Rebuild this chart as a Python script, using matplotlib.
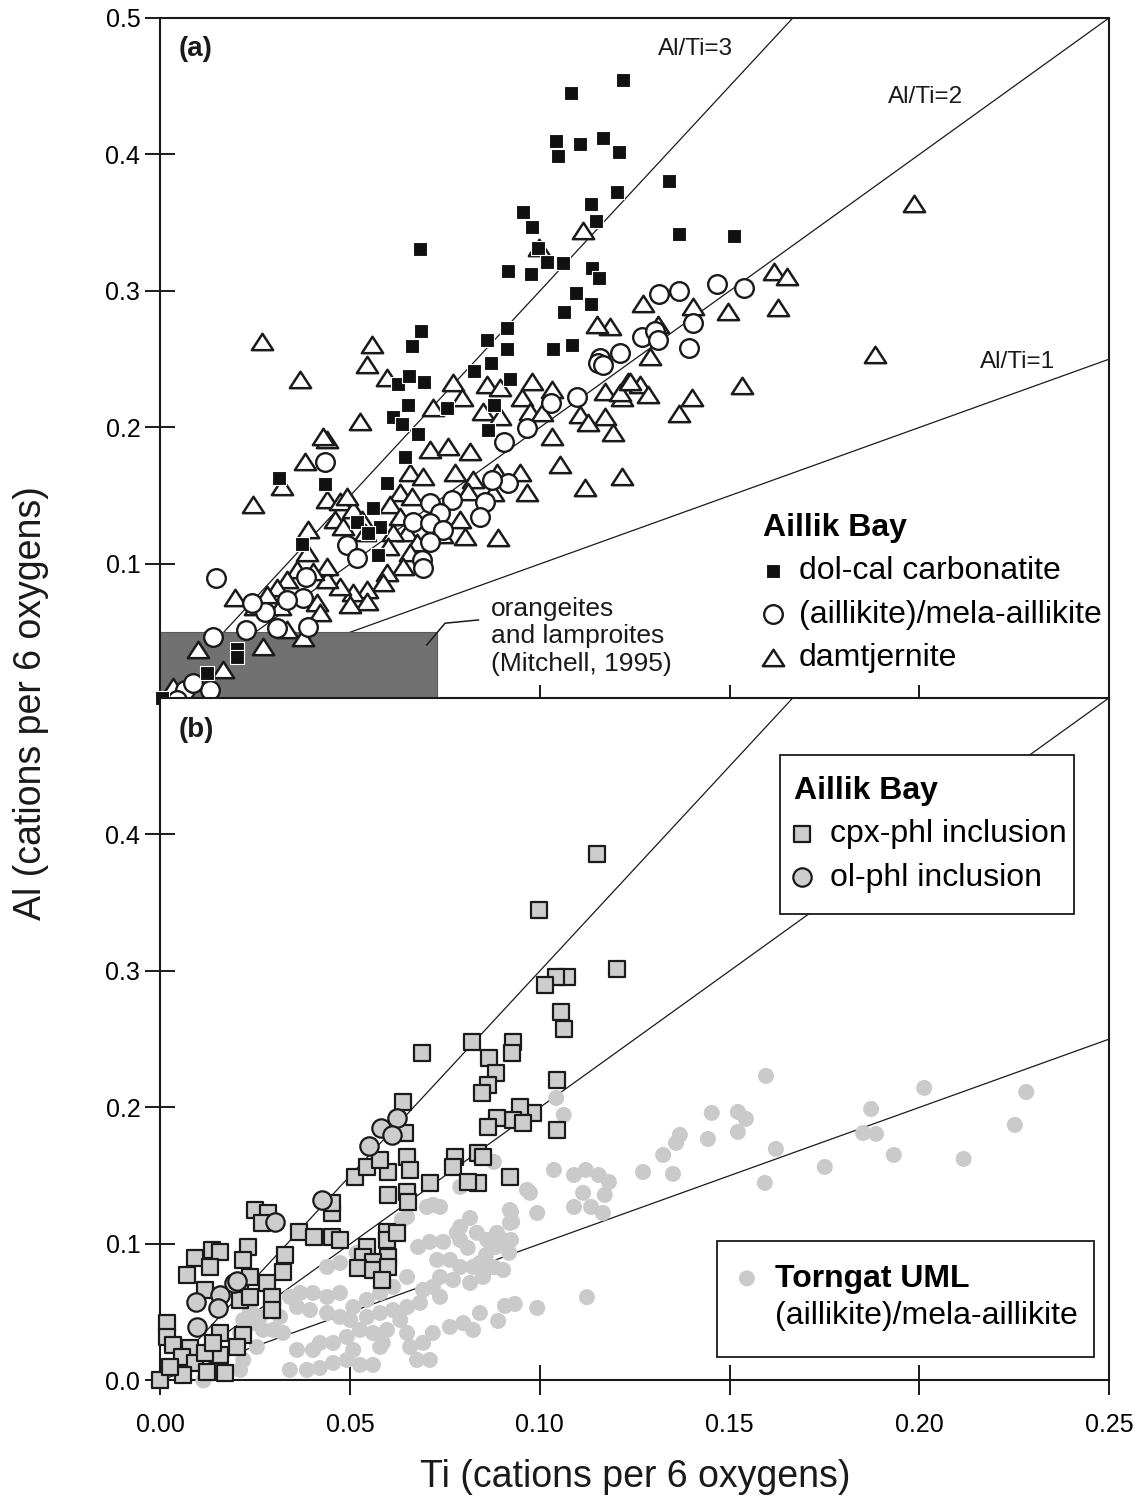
import matplotlib
matplotlib.use("Agg")
import matplotlib.pyplot as plt
from matplotlib.path import Path
from matplotlib.patches import Rectangle
from matplotlib.lines import Line2D

plt.rcParams['font.family'] = ['Liberation Sans', 'DejaVu Sans']

# ---------------- (a) Aillik Bay groundmass micas ----------------
carb_ti = [0.1219, 0.1082, 0.1042, 0.1048, 0.1106, 0.1166, 0.1209, 0.1204, 0.1135, 0.1148,
           0.0956, 0.0979, 0.0995, 0.1019, 0.1061, 0.0916, 0.0976, 0.1137, 0.1156, 0.1095,
           0.1135, 0.1064, 0.0684, 0.0686, 0.0663, 0.0913, 0.0913, 0.1034, 0.1084, 0.0860,
           0.1340, 0.1367, 0.1512, 0.0826, 0.0871, 0.0921, 0.0626, 0.0655, 0.0694, 0.0652,
           0.0613, 0.0636, 0.0678, 0.0755, 0.0863, 0.0880, 0.0644, 0.0312, 0.0434, 0.0597,
           0.0560, 0.0518, 0.0579, 0.0547, 0.0373, 0.0573, 0.0201, 0.0201, 0.0122, 0.0004]
carb_al = [0.4546, 0.4450, 0.4100, 0.3990, 0.4080, 0.4120, 0.4020, 0.3725, 0.3637, 0.3513,
           0.3579, 0.3469, 0.3315, 0.3212, 0.3205, 0.3147, 0.3124, 0.3168, 0.3095, 0.2985,
           0.2904, 0.2846, 0.3307, 0.2707, 0.2597, 0.2729, 0.2575, 0.2575, 0.2604, 0.2640,
           0.3806, 0.3418, 0.3403, 0.2415, 0.2473, 0.2355, 0.2319, 0.2377, 0.2333, 0.2165,
           0.2077, 0.2026, 0.1953, 0.2143, 0.1985, 0.2165, 0.1784, 0.1630, 0.1586, 0.1593,
           0.1410, 0.1308, 0.1271, 0.1227, 0.1146, 0.1066, 0.0380, 0.0319, 0.0201, 0.0018]

aill_ti = [0.1314, 0.1367, 0.1467, 0.1538, 0.1269, 0.1303, 0.1311, 0.1404, 0.1393, 0.1211,
           0.1158, 0.1153, 0.1166, 0.1097, 0.1029, 0.0966, 0.0906, 0.0916, 0.0874, 0.0855,
           0.0842, 0.0768, 0.0710, 0.0737, 0.0666, 0.0710, 0.0745, 0.0710, 0.0689, 0.0692,
           0.0491, 0.0518, 0.0433, 0.0147, 0.0384, 0.0376, 0.0333, 0.0276, 0.0241, 0.0226,
           0.0307, 0.0389, 0.0138, 0.0064, 0.0043, 0.0130, 0.0086]
aill_al = [0.2977, 0.3000, 0.3051, 0.3022, 0.2663, 0.2707, 0.2641, 0.2766, 0.2582, 0.2546,
           0.2509, 0.2473, 0.2458, 0.2223, 0.2179, 0.1996, 0.1894, 0.1594, 0.1616, 0.1454,
           0.1344, 0.1469, 0.1447, 0.1374, 0.1308, 0.1300, 0.1249, 0.1161, 0.1029, 0.0971,
           0.1139, 0.1044, 0.1747, 0.0897, 0.0905, 0.0751, 0.0736, 0.0648, 0.0714, 0.0516,
           0.0531, 0.0538, 0.0465, 0.0077, 0.0000, 0.0077, 0.0128]

damt_ti = [0.1987, 0.1617, 0.1651, 0.1272, 0.1404, 0.1496, 0.1628, 0.1185, 0.1311, 0.1290,
           0.1884, 0.1533, 0.1401, 0.1367, 0.1232, 0.1264, 0.1285, 0.1216, 0.1171, 0.1171,
           0.1193, 0.1216, 0.0557, 0.0544, 0.0597, 0.0526, 0.0439, 0.0381, 0.0320, 0.0244,
           0.0771, 0.0718, 0.0795, 0.0861, 0.0895, 0.0979, 0.0953, 0.0850, 0.0895, 0.0974,
           0.1032, 0.1006, 0.1032, 0.1106, 0.1127, 0.1211, 0.1238, 0.1053, 0.1119, 0.0966,
           0.0890, 0.0710, 0.0758, 0.0816, 0.0658, 0.0692, 0.0776, 0.0824, 0.0887, 0.0948,
           0.0632, 0.0663, 0.0810, 0.0877, 0.0439, 0.0473, 0.0508, 0.0460, 0.0481, 0.0531,
           0.0605, 0.0632, 0.0650, 0.0613, 0.0600, 0.0676, 0.0803, 0.0790, 0.0742, 0.0658,
           0.0639, 0.0597, 0.0586, 0.0544, 0.0508, 0.0544, 0.0500, 0.0473, 0.0439, 0.0439,
           0.0402, 0.0386, 0.0389, 0.0360, 0.0333, 0.0307, 0.0281, 0.0196, 0.0249, 0.0315,
           0.0413, 0.0333, 0.0270, 0.0376, 0.0420, 0.0099, 0.0165, 0.0033, 0.0539, 0.0491,
           0.0268, 0.0368, 0.0428, 0.1113, 0.0998, 0.1151]
damt_al = [0.3637, 0.3139, 0.3103, 0.2904, 0.2882, 0.2846, 0.2875, 0.2736, 0.2751, 0.2516,
           0.2531, 0.2304, 0.2216, 0.2099, 0.2333, 0.2311, 0.2238, 0.2216, 0.2260, 0.2077,
           0.1960, 0.1637, 0.2604, 0.2458, 0.2363, 0.2040, 0.1909, 0.1747, 0.1564, 0.1432,
           0.2326, 0.2143, 0.2216, 0.2311, 0.2289, 0.2333, 0.2216, 0.2114, 0.2077, 0.2114,
           0.2275, 0.2106, 0.1930, 0.2092, 0.2033, 0.2253, 0.2333, 0.1725, 0.1557, 0.1520,
           0.1190, 0.1835, 0.1857, 0.1821, 0.1667, 0.1637, 0.1667, 0.1616, 0.1667, 0.1667,
           0.1520, 0.1491, 0.1528, 0.1520, 0.1469, 0.1454, 0.1396, 0.1322, 0.1271, 0.1322,
           0.1432, 0.1344, 0.1227, 0.1227, 0.1125, 0.1154, 0.1198, 0.1322, 0.1212, 0.1081,
           0.0978, 0.0934, 0.0861, 0.0809, 0.0788, 0.0722, 0.0700, 0.0831, 0.0883, 0.0978,
           0.0941, 0.1081, 0.1249, 0.0956, 0.0883, 0.0824, 0.0773, 0.0751, 0.0685, 0.0685,
           0.0714, 0.0516, 0.0392, 0.0458, 0.0641, 0.0370, 0.0223, 0.0099, 0.1227, 0.1491,
           0.2626, 0.2348, 0.1930, 0.3439, 0.3315, 0.2750]

# ---------------- (b) inclusions and Torngat micas ----------------
cpx_ti = [0.1151, 0.0998, 0.1204, 0.1071, 0.1042, 0.1013, 0.1055, 0.1063, 0.0821, 0.0929,
          0.0926, 0.0689, 0.0866, 0.0884, 0.0863, 0.0847, 0.1045, 0.0982, 0.0948, 0.0929,
          0.0887, 0.0863, 0.0956, 0.1045, 0.0837, 0.0850, 0.0776, 0.0771, 0.0837, 0.0921,
          0.0810, 0.0710, 0.0639, 0.0644, 0.0650, 0.0658, 0.0600, 0.0650, 0.0653, 0.0600,
          0.0512, 0.0544, 0.0579, 0.0452, 0.0452, 0.0365, 0.0405, 0.0452, 0.0473, 0.0249,
          0.0283, 0.0268, 0.0597, 0.0597, 0.0623, 0.0544, 0.0534, 0.0600, 0.0560, 0.0521,
          0.0560, 0.0600, 0.0584, 0.0328, 0.0323, 0.0281, 0.0294, 0.0294, 0.0231, 0.0218,
          0.0136, 0.0157, 0.0091, 0.0130, 0.0069, 0.0117, 0.0210, 0.0210, 0.0236, 0.0236,
          0.0017, 0.0017, 0.0033, 0.0078, 0.0056, 0.0091, 0.0157, 0.0157, 0.0218, 0.0201,
          0.0170, 0.0122, 0.0060, 0.0000, 0.0025, 0.0117, 0.0138]
cpx_al = [0.3857, 0.3447, 0.3015, 0.2956, 0.2956, 0.2897, 0.2700, 0.2575, 0.2480, 0.2480,
          0.2399, 0.2399, 0.2363, 0.2253, 0.2165, 0.2106, 0.2201, 0.1959, 0.2004, 0.1909,
          0.1923, 0.1857, 0.1886, 0.1835, 0.1667, 0.1637, 0.1637, 0.1564, 0.1447, 0.1491,
          0.1454, 0.1447, 0.2040, 0.1813, 0.1637, 0.1542, 0.1527, 0.1380, 0.1308, 0.1359,
          0.1491, 0.1564, 0.1615, 0.1227, 0.1300, 0.1088, 0.1051, 0.1051, 0.1029, 0.1249,
          0.1227, 0.1154, 0.1088, 0.1029, 0.1081, 0.0978, 0.0905, 0.0905, 0.0868, 0.0824,
          0.0809, 0.0831, 0.0736, 0.0919, 0.0795, 0.0714, 0.0612, 0.0516, 0.0978, 0.0883,
          0.0956, 0.0941, 0.0897, 0.0831, 0.0773, 0.0663, 0.0685, 0.0590, 0.0612, 0.0758,
          0.0420, 0.0319, 0.0260, 0.0238, 0.0172, 0.0128, 0.0187, 0.0348, 0.0334, 0.0245,
          0.0055, 0.0062, 0.0040, 0.0000, 0.0099, 0.0201, 0.0275]

ol_ti = [0.0623, 0.0581, 0.0610, 0.0549, 0.0425, 0.0302, 0.0194, 0.0202, 0.0094, 0.0157,
         0.0152, 0.0096]
ol_al = [0.1923, 0.1849, 0.1799, 0.1718, 0.1322, 0.1161, 0.0714, 0.0732, 0.0575, 0.0626,
         0.0531, 0.0392]

torn_ti = [0.1596, 0.2013, 0.2282, 0.1873, 0.1453, 0.1522, 0.1543, 0.1522, 0.2252, 0.1852,
           0.1886, 0.1443, 0.1369, 0.1359, 0.1622, 0.1325, 0.1933, 0.2117, 0.1751, 0.1272,
           0.1351, 0.1593, 0.1037, 0.1090, 0.1121, 0.1155, 0.1182, 0.1171, 0.1114, 0.1090,
           0.1135, 0.1166, 0.0966, 0.0993, 0.0924, 0.0927, 0.0924, 0.0884, 0.0858, 0.0919,
           0.0879, 0.0842, 0.0879, 0.1124, 0.0993, 0.0934, 0.0908, 0.0890, 0.0842, 0.1043,
           0.1063, 0.0974, 0.0921, 0.0921, 0.0790, 0.0737, 0.0718, 0.0816, 0.0790, 0.0636,
           0.0679, 0.0710, 0.0745, 0.0790, 0.0810, 0.0861, 0.0903, 0.0729, 0.0763, 0.0790,
           0.0824, 0.0869, 0.0903, 0.0737, 0.0771, 0.0816, 0.0850, 0.0737, 0.0718, 0.0692,
           0.0650, 0.0613, 0.0579, 0.0544, 0.0508, 0.0473, 0.0439, 0.0402, 0.0368, 0.0360,
           0.0394, 0.0439, 0.0473, 0.0500, 0.0544, 0.0579, 0.0613, 0.0650, 0.0684, 0.0632,
           0.0597, 0.0560, 0.0526, 0.0491, 0.0455, 0.0420, 0.0402, 0.0360, 0.0323, 0.0297,
           0.0270, 0.0244, 0.0218, 0.0262, 0.0315, 0.0341, 0.0386, 0.0420, 0.0455, 0.0491,
           0.0526, 0.0560, 0.0586, 0.0650, 0.0658, 0.0676, 0.0710, 0.0692, 0.0718, 0.0763,
           0.0798, 0.0824, 0.0579, 0.0508, 0.0218, 0.0210, 0.0113, 0.0887, 0.0702, 0.0650,
           0.0439, 0.0473, 0.0517, 0.0341, 0.0236, 0.0210, 0.0254, 0.0781, 0.0834]
torn_al = [0.2231, 0.2143, 0.2113, 0.1989, 0.1960, 0.1967, 0.1916, 0.1821, 0.1872, 0.1813,
           0.1806, 0.1769, 0.1799, 0.1740, 0.1696, 0.1652, 0.1652, 0.1623, 0.1564, 0.1527,
           0.1513, 0.1447, 0.1542, 0.1505, 0.1542, 0.1505, 0.1454, 0.1359, 0.1374, 0.1271,
           0.1271, 0.1227, 0.1396, 0.1227, 0.1235, 0.1161, 0.1029, 0.0978, 0.0919, 0.0934,
           0.0831, 0.0860, 0.1601, 0.0610, 0.0531, 0.0560, 0.0546, 0.0436, 0.0494, 0.2069,
           0.1945, 0.1374, 0.1249, 0.1154, 0.1418, 0.1271, 0.1286, 0.1190, 0.1125, 0.1176,
           0.0978, 0.1015, 0.1015, 0.1029, 0.0971, 0.1029, 0.1029, 0.0883, 0.0883, 0.0831,
           0.0831, 0.0831, 0.0809, 0.0758, 0.0736, 0.0714, 0.0758, 0.0612, 0.0685, 0.0663,
           0.0758, 0.0685, 0.0641, 0.0590, 0.0538, 0.0641, 0.0612, 0.0641, 0.0641, 0.0538,
           0.0516, 0.0494, 0.0465, 0.0443, 0.0465, 0.0494, 0.0516, 0.0538, 0.0568, 0.0443,
           0.0370, 0.0348, 0.0370, 0.0319, 0.0275, 0.0275, 0.0223, 0.0223, 0.0348, 0.0370,
           0.0370, 0.0420, 0.0443, 0.0465, 0.0465, 0.0077, 0.0077, 0.0091, 0.0128, 0.0150,
           0.0114, 0.0114, 0.0275, 0.0348, 0.0245, 0.0150, 0.0150, 0.0275, 0.0348, 0.0392,
           0.0420, 0.0370, 0.0245, 0.0223, 0.0150, 0.0077, 0.0000, 0.1081, 0.1271, 0.1198,
           0.0831, 0.0860, 0.0934, 0.0612, 0.0516, 0.0348, 0.0245, 0.1081, 0.1081]

ratios = [3, 2, 1]
ratio_labels = ["Al/Ti=3", "Al/Ti=2", "Al/Ti=1"]
ratio_label_pos = [(0.1311, 0.4773), (0.1918, 0.4421), (0.2160, 0.2480)]

field_ti, field_al = 0.0729, 0.0502   # orangeite / lamproite field limits
x_ticks = [0.00, 0.05, 0.10, 0.15, 0.20, 0.25]

# ---------------- figure ----------------
fig = plt.figure(figsize=(11.43, 14.99), dpi=100)
left, width, height = 0.1404, 0.8298, 0.4553
ax1 = fig.add_axes([left, 0.5327, width, height])
ax2 = fig.add_axes([left, 0.0791, width, height])

INK = '#1a1a1a'
tri = Path([(-1, -0.72), (1, -0.72), (0, 0.82), (-1, -0.72)],
           [Path.MOVETO, Path.LINETO, Path.LINETO, Path.CLOSEPOLY])

for ax in (ax1, ax2):
    ax.set_xlim(0, 0.25)
    ax.set_ylim(0, 0.5)
    for r in ratios:
        ax.plot([0, 0.25], [0, 0.25 * r], color=INK, lw=0.9, zorder=1)
    for s in ax.spines.values():
        s.set_linewidth(1.5)
        s.set_color(INK)
    ax.tick_params(direction='inout', length=21, width=1.4, color=INK,
                   labelsize=18, pad=4)
    ax.tick_params(axis='x', pad=13)

# panel (a)
ax1.add_patch(Rectangle((0, 0), field_ti, field_al, facecolor='#717171',
                        edgecolor='#5a5a5a', lw=0.8, zorder=2))
ax1.plot([0.0702, 0.0750, 0.0838], [0.0407, 0.0566, 0.0590], color=INK, lw=1.1, zorder=6)
ax1.text(0.0872, 0.0760, "orangeites\nand lamproites\n(Mitchell, 1995)", fontsize=19,
         ha='left', va='top', linespacing=1.19, color=INK, zorder=6)

h_d = ax1.scatter(damt_ti, damt_al, marker=tri, s=235, facecolor='white',
                  edgecolor=INK, linewidth=1.8, zorder=3, clip_on=False)
h_a = ax1.scatter(aill_ti, aill_al, marker='o', s=180, facecolor='white',
                  edgecolor=INK, linewidth=1.7, zorder=4, clip_on=False)
h_c = ax1.scatter(carb_ti, carb_al, marker='s', s=100, facecolor='#111111',
                  edgecolor='white', linewidth=0.8, zorder=5, clip_on=False)

for (lx, ly), lab in zip(ratio_label_pos, ratio_labels):
    ax1.text(lx, ly, lab, fontsize=17.5, ha='left', va='center', color=INK)

ax1.text(0.0048, 0.4772, "(a)", fontsize=20, fontweight='bold', ha='left', va='center',
         color=INK)

ax1.set_xticks(x_ticks[1:-1])
ax1.set_xticklabels([])
ax1.set_yticks([0.1, 0.2, 0.3, 0.4, 0.5])
ax1.set_yticklabels(["0.1", "0.2", "0.3", "0.4", "0.5"])

ax1.legend([h_c, h_a, h_d],
           ["dol-cal carbonatite", "(aillikite)/mela-aillikite", "damtjernite"],
           title="Aillik Bay", loc='upper left', bbox_to_anchor=(0.6352, 0.2747),
           frameon=False, fontsize=23, title_fontproperties={'weight': 'bold', 'size': 23},
           alignment='left', borderpad=0, borderaxespad=0, handlelength=0.625,
           handletextpad=0.5, labelspacing=0.42, scatterpoints=1)

# panel (b)
h_t = ax2.scatter(torn_ti, torn_al, marker='o', s=133, facecolor='#cacaca',
                  edgecolor='none', zorder=3, clip_on=False)
h_x = ax2.scatter(cpx_ti, cpx_al, marker='s', s=117, facecolor='#cdcdcd',
                  edgecolor=INK, linewidth=1.6, zorder=4, clip_on=False)
h_o = ax2.scatter(ol_ti, ol_al, marker='o', s=175, facecolor='#cdcdcd',
                  edgecolor=INK, linewidth=1.6, zorder=5, clip_on=False)

ax2.text(0.0048, 0.4765, "(b)", fontsize=20, fontweight='bold', ha='left', va='center',
         color=INK)

ax2.set_xticks(x_ticks)
ax2.set_xticklabels(["0.00", "0.05", "0.10", "0.15", "0.20", "0.25"])
ax2.set_yticks([0.0, 0.1, 0.2, 0.3, 0.4])
ax2.set_yticklabels(["0.0", "0.1", "0.2", "0.3", "0.4"])

# boxed legends in panel (b): white panels with a thin black border
ax2.add_patch(Rectangle((0.6531, 0.6835), 0.3100, 0.2330, transform=ax2.transAxes,
                        facecolor='white', edgecolor=INK, lw=1.3, zorder=7))
leg2 = ax2.legend([h_x, h_o], ["cpx-phl inclusion", "ol-phl inclusion"],
                  title="Aillik Bay", loc='upper left', bbox_to_anchor=(0.6679, 0.8857),
                  frameon=False, fontsize=23,
                  title_fontproperties={'weight': 'bold', 'size': 23},
                  alignment='left', borderpad=0, borderaxespad=0, handlelength=0.5,
                  handletextpad=0.625, labelspacing=0.42, scatterpoints=1)
leg2.set_zorder(8)
ax2.add_artist(leg2)

ax2.add_patch(Rectangle((0.5867, 0.0344), 0.3977, 0.1700, transform=ax2.transAxes,
                        facecolor='white', edgecolor=INK, lw=1.3, zorder=7))
blank = Line2D([], [], linestyle='none', marker='none')
leg3 = ax2.legend([h_t, blank], ["Torngat UML", "(aillikite)/mela-aillikite"],
                  loc='upper left', bbox_to_anchor=(0.6120, 0.1710),
                  frameon=False, fontsize=23, borderpad=0, borderaxespad=0,
                  handlelength=0.375, handletextpad=0.69, labelspacing=0.22,
                  scatterpoints=1)
leg3.set_zorder(8)
leg3.get_texts()[0].set_fontweight('bold')

fig.text(635 / 1143, 1 - 1477 / 1499, "Ti (cations per 6 oxygens)", fontsize=27,
         ha='center', va='center', color=INK)
fig.text(31 / 1143, 1 - 703 / 1499, "Al (cations per 6 oxygens)", fontsize=27,
         ha='center', va='center', rotation=90, color=INK)

fig.savefig("out.png", dpi=100)
